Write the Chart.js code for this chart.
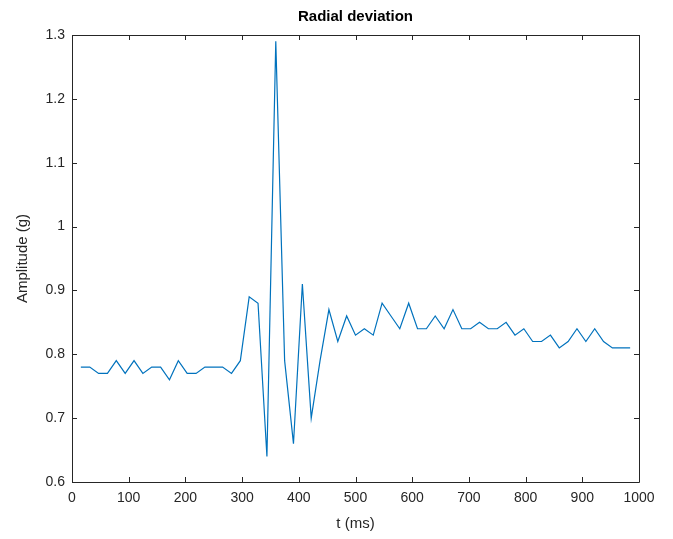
<!DOCTYPE html>
<html>
<head>
<meta charset="utf-8">
<script src="https://cdn.jsdelivr.net/npm/chart.js@4"></script>
<style>
  html, body { margin: 0; padding: 0; background: #fff; }
  #wrap { width: 673px; height: 539px; position: relative; }
</style>
</head>
<body>
<div id="wrap"><canvas id="radialChart"></canvas></div>
<script>
// sample times (ms) and measured amplitude (g)
const times = [
  15.6, 31.3, 46.9, 62.5, 78.1, 93.8, 109.4, 125.0, 140.6, 156.3,
  171.9, 187.5, 203.1, 218.8, 234.4, 250.0, 265.6, 281.3, 296.9, 312.5,
  328.1, 343.8, 359.4, 375.0, 390.6, 406.3, 421.9, 437.5, 453.1, 468.8,
  484.4, 500.0, 515.6, 531.3, 546.9, 562.5, 578.1, 593.8, 609.4, 625.0,
  640.6, 656.3, 671.9, 687.5, 703.1, 718.8, 734.4, 750.0, 765.6, 781.3,
  796.9, 812.5, 828.1, 843.8, 859.4, 875.0, 890.6, 906.3, 921.9, 937.5,
  953.1, 968.8, 984.4
];
const amplitude = [
  0.78, 0.78, 0.77, 0.77, 0.79, 0.77, 0.79, 0.77, 0.78, 0.78,
  0.76, 0.79, 0.77, 0.77, 0.78, 0.78, 0.78, 0.77, 0.79, 0.89,
  0.88, 0.64, 1.29, 0.79, 0.66, 0.91, 0.70, 0.79, 0.87, 0.82,
  0.86, 0.83, 0.84, 0.83, 0.88, 0.86, 0.84, 0.88, 0.84, 0.84,
  0.86, 0.84, 0.87, 0.84, 0.84, 0.85, 0.84, 0.84, 0.85, 0.83,
  0.84, 0.82, 0.82, 0.83, 0.81, 0.82, 0.84, 0.82, 0.84, 0.82,
  0.81, 0.81, 0.81
];
const xTicks = [0, 100, 200, 300, 400, 500, 600, 700, 800, 900, 1000];
const yTicks = [0.6, 0.7, 0.8, 0.9, 1, 1.1, 1.2, 1.3];

const axisColor = "#262626";
const fontFamily = "'Liberation Sans', Arial, Helvetica, sans-serif";

// MATLAB-like box with inward ticks on all four sides
const boxTicks = {
  id: "boxTicks",
  afterDraw(chart) {
    const { ctx, chartArea: a, scales } = chart;
    const len = 5;
    ctx.save();
    ctx.strokeStyle = axisColor;
    ctx.lineWidth = 1;
    ctx.beginPath();
    ctx.rect(Math.round(a.left) + 0.5, Math.round(a.top) + 0.5,
             Math.round(a.right - a.left), Math.round(a.bottom - a.top));
    xTicks.forEach(v => {
      const px = Math.round(scales.x.getPixelForValue(v)) + 0.5;
      ctx.moveTo(px, a.bottom); ctx.lineTo(px, a.bottom - len);
      ctx.moveTo(px, a.top); ctx.lineTo(px, a.top + len);
    });
    yTicks.forEach(v => {
      const py = Math.round(scales.y.getPixelForValue(v)) + 0.5;
      ctx.moveTo(a.left, py); ctx.lineTo(a.left + len, py);
      ctx.moveTo(a.right, py); ctx.lineTo(a.right - len, py);
    });
    ctx.stroke();
    ctx.restore();
  }
};

new Chart(document.getElementById("radialChart"), {
  type: "line",
  data: {
    datasets: [{
      label: "Radial deviation",
      data: times.map((t, i) => ({ x: t, y: amplitude[i] })),
      borderColor: "#0072BD",
      borderWidth: 1.2,
      pointRadius: 0,
      tension: 0,
      fill: false
    }]
  },
  options: {
    responsive: true,
    maintainAspectRatio: false,
    animation: false,
    layout: { padding: { top: 0, right: 34, bottom: 3, left: 10 } },
    plugins: {
      legend: { display: false },
      tooltip: { enabled: false },
      title: {
        display: true,
        fullSize: false,
        text: "Radial deviation",
        color: "#000",
        font: { family: fontFamily, size: 15, weight: "bold" },
        padding: { top: 8, bottom: 9 }
      }
    },
    scales: {
      x: {
        type: "linear",
        min: 0, max: 1000,
        afterBuildTicks: s => { s.ticks = xTicks.map(v => ({ value: v })); },
        afterFit: s => { s.height = 54; },
        grid: { display: false, drawTicks: false },
        border: { display: false },
        ticks: { color: axisColor, padding: 8, maxRotation: 0, callback: v => String(v), font: { family: fontFamily, size: 14 } },
        title: { display: true, text: "t (ms)", color: axisColor, padding: { top: 2, bottom: 3 }, font: { family: fontFamily, size: 15 } }
      },
      y: {
        min: 0.6, max: 1.3,
        afterBuildTicks: s => { s.ticks = yTicks.map(v => ({ value: v })); },
        afterFit: s => { s.width = 62; },
        grid: { display: false, drawTicks: false },
        border: { display: false },
        ticks: { color: axisColor, padding: 7, callback: v => String(Math.round(v * 10) / 10), font: { family: fontFamily, size: 14 } },
        title: { display: true, text: "Amplitude (g)", color: axisColor, padding: { bottom: 4 }, font: { family: fontFamily, size: 15 } }
      }
    }
  },
  plugins: [boxTicks]
});
</script>
</body>
</html>
